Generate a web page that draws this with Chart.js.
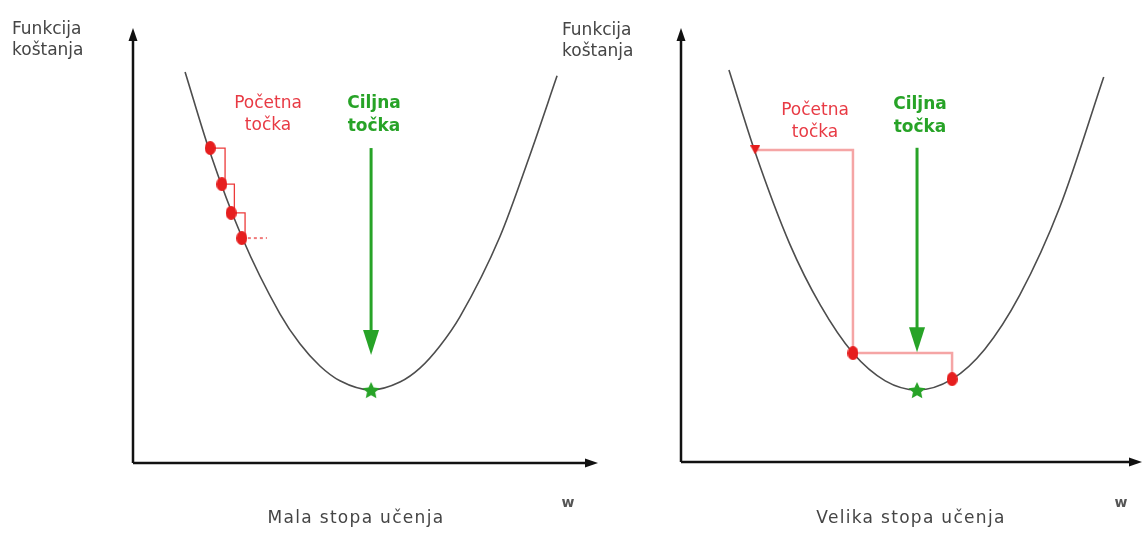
<!DOCTYPE html>
<html>
<head>
<meta charset="utf-8">
<script src="https://cdn.jsdelivr.net/npm/chart.js@4/dist/chart.umd.min.js"></script>
<style>
body { margin: 0; background: #fff; width: 1142px; height: 543px; position: relative; overflow: hidden; }
.panel { position: absolute; top: 0; }
</style>
</head>
<body>
<canvas id="left" class="panel" style="left:0" width="610" height="543"></canvas>
<canvas id="right" class="panel" style="left:550px" width="592" height="543"></canvas>
<script>
// cost curve (w: 0..10 along the x axis, cost: 0..10 up the y axis)
var wLeft = [1.12, 1.65, 2.34, 3.16, 3.59, 4.02, 4.45, 5.12, 5.74, 6.17, 6.60, 7.03, 7.89, 8.52, 9.12];
var costLeft = [8.99, 7.16, 5.20, 3.43, 2.74, 2.23, 1.89, 1.68, 1.86, 2.18, 2.69, 3.36, 5.20, 7.03, 8.90];
var wRight = [1.04, 1.61, 2.36, 3.02, 3.73, 4.43, 5.12, 5.88, 6.59, 7.35, 8.22, 9.17];
var costRight = [9.03, 7.13, 5.02, 3.62, 2.51, 1.87, 1.66, 1.91, 2.60, 3.85, 5.88, 8.87];

// gradient descent steps
var stepWLeft = [1.66, 1.91, 2.11, 2.34];
var stepCostLeft = [7.24, 6.41, 5.75, 5.17];
var moreWLeft = [2.47, 2.88];   // the "..." after the last small step
var stepWRight = [1.61, 3.73, 5.88];
var stepCostRight = [7.19, 2.51, 1.91];

// target point (minimum) and the green arrow
var targetW = 5.12;
var targetCostLeft = 1.68;
var targetCostRight = 1.66;
var arrowTop = 7.24;
var arrowTipLeft = 2.48;
var arrowTipRight = 2.53;

var RED = '#e61e1e';
var GREEN = '#27a327';
var FONT = '"DejaVu Sans", Verdana, sans-serif';

function zip(xs, ys) {
    return xs.map(function (x, i) { return {x: x, y: ys[i]}; });
}

function stepPath(ws, cs, off) {
    var pts = [];
    for (var i = 0; i < ws.length; i++) {
        pts.push({x: ws[i], y: cs[i]});
        if (i < ws.length - 1) {
            pts.push({x: ws[i + 1] + off, y: cs[i]});
            pts.push({x: ws[i + 1] + off, y: cs[i + 1]});
        }
    }
    return pts;
}

function starImage(size, color) {
    var c = document.createElement('canvas');
    c.width = c.height = size;
    var g = c.getContext('2d');
    g.fillStyle = color;
    g.beginPath();
    for (var i = 0; i < 10; i++) {
        var r = i % 2 ? size * 0.24 : size * 0.5;
        var a = -Math.PI / 2 + i * Math.PI / 5;
        g.lineTo(size / 2 + r * Math.cos(a), size / 2 + 1 + r * Math.sin(a));
    }
    g.closePath();
    g.fill();
    return c;
}

function dotImage(w, h, color) {
    var c = document.createElement('canvas');
    c.width = w; c.height = h;
    var g = c.getContext('2d');
    g.fillStyle = color;
    g.beginPath();
    g.ellipse(w / 2, h / 2, w / 2, h / 2, 0, 0, Math.PI * 2);
    g.fill();
    return c;
}

function triImage(w, h, color) {
    var c = document.createElement('canvas');
    c.width = w; c.height = h;
    var g = c.getContext('2d');
    g.fillStyle = color;
    g.beginPath();
    g.moveTo(0, 0); g.lineTo(w, 0); g.lineTo(w / 2, h);
    g.closePath();
    g.fill();
    return c;
}

var decorPlugin = {
    id: 'decor',
    beforeDatasetsDraw: function (chart) {
        var ctx = chart.ctx, a = chart.chartArea;
        ctx.save();
        ctx.strokeStyle = '#111';
        ctx.fillStyle = '#111';
        ctx.lineWidth = 2.5;
        // y axis
        ctx.beginPath();
        ctx.moveTo(a.left, a.bottom);
        ctx.lineTo(a.left, a.top + 8);
        ctx.stroke();
        ctx.beginPath();
        ctx.moveTo(a.left, a.top);
        ctx.lineTo(a.left - 4.5, a.top + 13);
        ctx.lineTo(a.left + 4.5, a.top + 13);
        ctx.closePath();
        ctx.fill();
        // x axis
        ctx.beginPath();
        ctx.moveTo(a.left, a.bottom);
        ctx.lineTo(a.right - 8, a.bottom);
        ctx.stroke();
        ctx.beginPath();
        ctx.moveTo(a.right, a.bottom);
        ctx.lineTo(a.right - 13, a.bottom - 4.5);
        ctx.lineTo(a.right - 13, a.bottom + 4.5);
        ctx.closePath();
        ctx.fill();
        ctx.restore();
    },
    afterDatasetsDraw: function (chart, args, opts) {
        var ctx = chart.ctx;
        var xs = chart.scales.x, ys = chart.scales.y;
        ctx.save();
        // green arrow pointing at the minimum
        var ax = xs.getPixelForValue(targetW);
        var top = ys.getPixelForValue(arrowTop);
        var tip = ys.getPixelForValue(opts.arrowTip);
        ctx.strokeStyle = GREEN;
        ctx.fillStyle = GREEN;
        ctx.lineWidth = 3;
        ctx.beginPath();
        ctx.moveTo(ax, top);
        ctx.lineTo(ax, tip - 20);
        ctx.stroke();
        ctx.beginPath();
        ctx.moveTo(ax, tip);
        ctx.lineTo(ax - 8, tip - 25);
        ctx.lineTo(ax + 8, tip - 25);
        ctx.closePath();
        ctx.fill();
        // texts
        opts.texts.forEach(function (t) {
            ctx.font = t.font;
            ctx.fillStyle = t.color;
            ctx.textAlign = t.align || 'left';
            ctx.textBaseline = 'alphabetic';
            if ('letterSpacing' in ctx) ctx.letterSpacing = (t.spacing || 0) + 'px';
            ctx.fillText(t.text, t.x, t.y);
        });
        ctx.restore();
    }
};

function makePanel(id, o) {
    var datasets = [
        {data: zip(o.w, o.cost), showLine: true, borderColor: '#4d4d4d', borderWidth: 1.6,
         pointRadius: 0, cubicInterpolationMode: 'monotone', order: 5},
        {data: stepPath(o.stepW, o.stepCost, o.stepOff), showLine: true, borderColor: o.stepColor,
         borderWidth: o.stepWidth, pointRadius: 0, tension: 0, order: 4},
        {data: zip(o.stepW, o.stepCost), showLine: false, pointStyle: o.markers,
         pointRadius: 6, order: 1},
        {data: [{x: targetW, y: o.targetCost}], showLine: false,
         pointStyle: starImage(18, GREEN), pointRadius: 9, order: 1}
    ];
    if (o.moreW) {
        datasets.push({data: zip(o.moreW, [o.stepCost[o.stepCost.length - 1], o.stepCost[o.stepCost.length - 1]]),
            showLine: true, borderColor: '#f07a7a', borderWidth: 2, borderDash: [3, 3],
            pointRadius: 0, order: 3});
    }
    return new Chart(document.getElementById(id), {
        type: 'scatter',
        data: {datasets: datasets},
        options: {
            responsive: false,
            animation: false,
            devicePixelRatio: 1,
            layout: {padding: o.padding, autoPadding: false},
            scales: {
                x: {type: 'linear', min: 0, max: 10, display: false},
                y: {type: 'linear', min: 0, max: 10, display: false}
            },
            plugins: {
                legend: {display: false},
                tooltip: {enabled: false},
                decor: {arrowTip: o.arrowTip, texts: o.texts}
            }
        },
        plugins: [decorPlugin]
    });
}

var dot = dotImage(11, 14, RED);
var labelFont = '17px ' + FONT;
var noteFont = '17px ' + FONT;
var boldNote = 'bold 17px ' + FONT;

makePanel('left', {
    w: wLeft, cost: costLeft,
    stepW: stepWLeft, stepCost: stepCostLeft, stepOff: 0.07,
    stepColor: '#ec3a3a', stepWidth: 1.3, moreW: moreWLeft,
    markers: [dot, dot, dot, dot],
    targetCost: targetCostLeft, arrowTip: arrowTipLeft,
    padding: {left: 133, right: 12, top: 28, bottom: 80},
    texts: [
        {text: 'Funkcija', x: 12, y: 34, font: labelFont, color: '#454545'},
        {text: 'koštanja', x: 12, y: 55, font: labelFont, color: '#454545'},
        {text: 'Početna', x: 268, y: 108, font: noteFont, color: '#e83a44', align: 'center'},
        {text: 'točka', x: 268, y: 130, font: noteFont, color: '#e83a44', align: 'center'},
        {text: 'Ciljna', x: 374, y: 108, font: boldNote, color: GREEN, align: 'center'},
        {text: 'točka', x: 374, y: 131, font: boldNote, color: GREEN, align: 'center'},
        {text: 'w', x: 568, y: 507, font: 'bold 14px ' + FONT, color: '#555', align: 'center'},
        {text: 'Mala stopa učenja', x: 356, y: 523, font: labelFont, color: '#454545', align: 'center', spacing: 1.3}
    ]
});

makePanel('right', {
    w: wRight, cost: costRight,
    stepW: stepWRight, stepCost: stepCostRight, stepOff: 0,
    stepColor: '#f5a5a5', stepWidth: 2.5,
    markers: [triImage(10, 9, RED), dot, dot],
    targetCost: targetCostRight, arrowTip: arrowTipRight,
    padding: {left: 131, right: 0, top: 28, bottom: 81},
    texts: [
        {text: 'Funkcija', x: 12, y: 35, font: labelFont, color: '#454545'},
        {text: 'koštanja', x: 12, y: 56, font: labelFont, color: '#454545'},
        {text: 'Početna', x: 265, y: 115, font: noteFont, color: '#e83a44', align: 'center'},
        {text: 'točka', x: 265, y: 137, font: noteFont, color: '#e83a44', align: 'center'},
        {text: 'Ciljna', x: 370, y: 109, font: boldNote, color: GREEN, align: 'center'},
        {text: 'točka', x: 370, y: 132, font: boldNote, color: GREEN, align: 'center'},
        {text: 'w', x: 571, y: 507, font: 'bold 14px ' + FONT, color: '#555', align: 'center'},
        {text: 'Velika stopa učenja', x: 361, y: 523, font: labelFont, color: '#454545', align: 'center', spacing: 1.3}
    ]
});
</script>
</body>
</html>
